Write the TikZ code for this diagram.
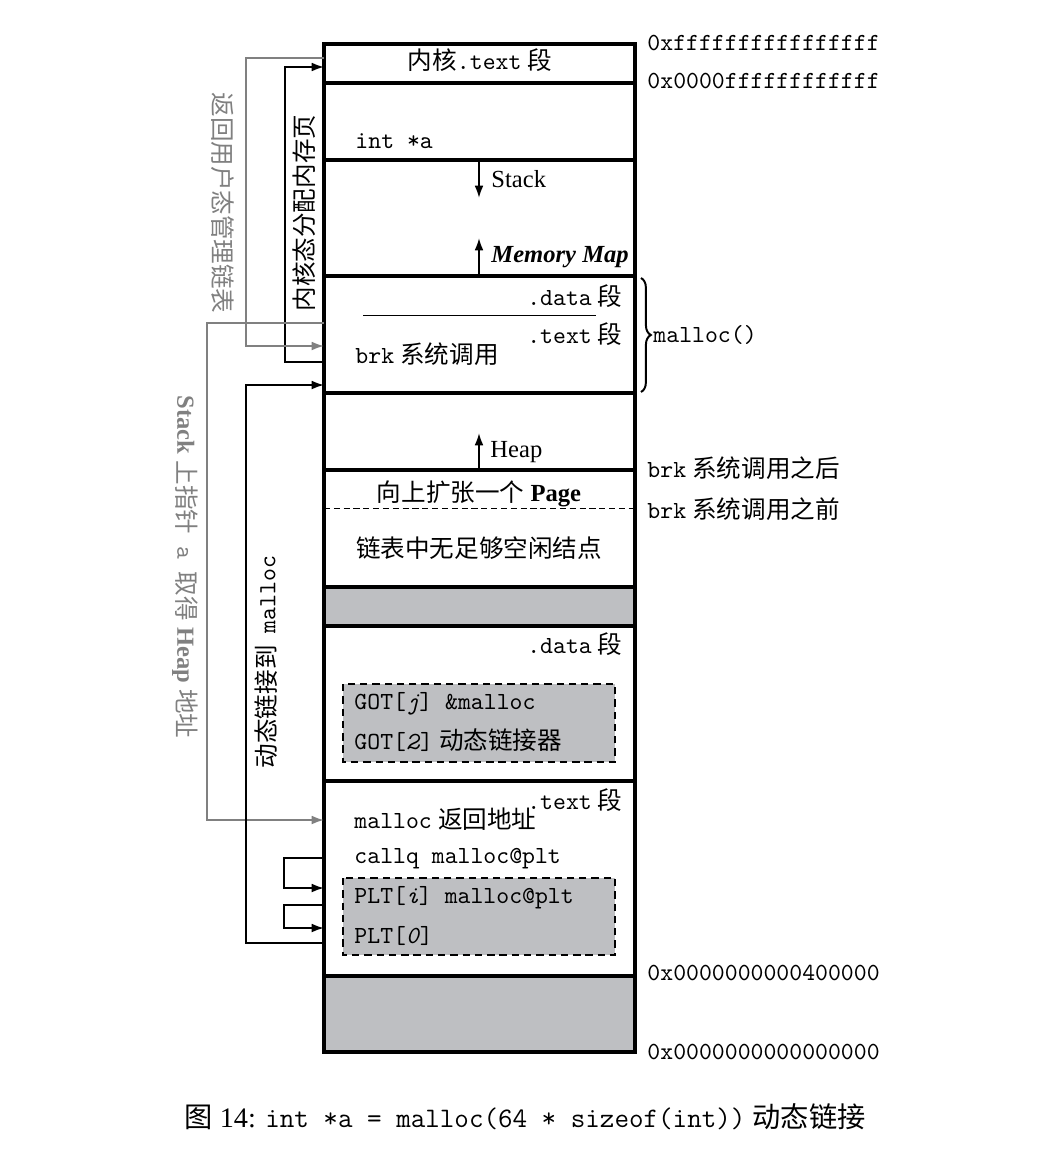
\documentclass[tikz,border=0pt]{standalone}
\usepackage{fontspec}
\setmainfont{Liberation Serif}
\newfontfamily\cjk{Noto Sans CJK SC}
\newcommand\zh[1]{{\cjk #1}}
\usetikzlibrary{decorations.pathreplacing, arrows.meta}
\definecolor{bandgray}{RGB}{190,191,194}
\definecolor{arrgray}{RGB}{128,128,128}
\tikzset{
  seg/.style={draw, line width=1.3pt},
  link/.style={->, line width=0.8pt},
  uplink/.style={link, arrgray},
  lnote/.style={inner sep=0pt, anchor=base west},
  rnote/.style={inner sep=0pt, anchor=base east},
  cnote/.style={inner sep=0pt, anchor=base},
  pltbox/.style={fill=bandgray, draw, dash pattern=on 3pt off 2pt, line width=0.5pt},
}

\begin{document}
\begin{tikzpicture}[x=0.407pt, y=-0.407pt, >={Latex[length=5pt, width=3.6pt]}]
  \useasboundingbox (0,0) rectangle (1046,1172);
  % gray parts of the column
  \fill[bandgray] (324,587) rectangle (635,626);
  \fill[bandgray] (324,976) rectangle (635,1052);
  \draw[pltbox] (343,684) rectangle (615,762);
  \draw[pltbox] (343,878) rectangle (615,955);
  % the column
  \draw[seg] (324,44) rectangle (635,1052);
  \foreach \y in {83,160,276,393,470,587,626,781,976}
    \draw[seg] (324,\y) -- (635,\y);
  \draw[line width=0.4pt] (363,315) -- (596,315);
  \draw[dash pattern=on 2.5pt off 1.5pt, line width=0.4pt] (324,508) -- (635,508);

  % texts in the column
  \node[cnote] (ktext) at (480,69) {\zh{内核}\texttt{.text}~\zh{段}};
  \node[lnote] (inta) at (355,148) {\texttt{int *a}};
  \node[lnote] (stack) at (491,187) {Stack};
  \node[lnote] (mmap) at (491,262) {\textbf{\textit{Memory Map}}};
  \node[rnote] (data1) at (623,305) {\texttt{.data}~\zh{段}};
  \node[rnote] (text1) at (623,343) {\texttt{.text}~\zh{段}};
  \node[lnote] (brk) at (355,363) {\texttt{brk}~\zh{系统调用}};
  \node[lnote] (heap) at (490,457) {Heap};
  \node[cnote] (page) at (479,501) {\zh{向上扩张一个}~\textbf{Page}};
  \node[cnote] (nofree) at (479,557) {\zh{链表中无足够空闲结点}};
  \node[rnote] (data2) at (623,653) {\texttt{.data}~\zh{段}};
  \node[lnote] (gotj) at (354,709) {\texttt{GOT[\textit{j}]~\&malloc}};
  \node[lnote] (got2) at (354,749) {\texttt{GOT[\textit{2}]}~\zh{动态链接器}};
  \node[rnote] (text2) at (623,809) {\texttt{.text}~\zh{段}};
  \node[lnote] (ret) at (354,828) {\texttt{malloc}~\zh{返回地址}};
  \node[lnote] (callq) at (354,863) {\texttt{callq malloc@plt}};
  \node[lnote] (plti) at (354,903) {\texttt{PLT[\textit{i}]~malloc@plt}};
  \node[lnote] (plt0) at (354,943) {\texttt{PLT[\textit{0}]}};

  % growth arrows
  \coordinate (stk) at (479,162);
  \coordinate (mm) at (479,276);
  \coordinate (hp) at (479,470);
  \draw[link] (stk) -- ++(0,36);
  \draw[link] (mm) -- ++(0,-38);
  \draw[link] (hp) -- ++(0,-37);

  % addresses on the right
  \node[lnote] (atop) at (647,50) {\texttt{0xffffffffffffffff}};
  \node[lnote] (auser) at (647,88) {\texttt{0x0000ffffffffffff}};
  \node[lnote] (after) at (647,477) {\texttt{brk}~\zh{系统调用之后}};
  \node[lnote] (before) at (647,518) {\texttt{brk}~\zh{系统调用之前}};
  \node[lnote] (aprog) at (647,980) {\texttt{0x0000000000400000}};
  \node[lnote] (azero) at (647,1059) {\texttt{0x0000000000000000}};
  \draw[decorate, decoration={brace, amplitude=4pt}, line width=0.8pt]
    (641,278) -- (641,392);
  \node[lnote] (mall) at (653,342) {\texttt{malloc()}};

  % connectors on the left
  \coordinate (kin) at (324,67);
  \coordinate (kout) at (324,58);
  \coordinate (brkk) at (324,362);
  \coordinate (brku) at (324,346);
  \coordinate (brks) at (324,323);
  \coordinate (brkin) at (324,385);
  \coordinate (retin) at (324,820);
  \coordinate (callout) at (324,858);
  \coordinate (pltiin) at (324,888);
  \coordinate (pltiout) at (324,905);
  \coordinate (plt0in) at (324,928);
  \coordinate (plt0out) at (324,943);
  \draw[link] (brkk) -- ++(-39,0) |- (kin);
  \draw[uplink] (kout) -- ++(-78,0) |- (brku);
  \draw[uplink] (brks) -- ++(-117,0) |- (retin);
  \draw[link] (plt0out) -- ++(-78,0) |- (brkin);
  \draw[link] (callout) -- ++(-40,0) |- (pltiin);
  \draw[link] (pltiout) -- ++(-40,0) |- (plt0in);

  \node[rotate=90] (alloc) at (304,213) {\zh{内核态分配内存页}};
  \node[rotate=-90, text=arrgray] (back) at (223,203) {\zh{返回用户态管理链表}};
  \node[rotate=-90, text=arrgray] (ptr) at (185,567)
    {\textbf{Stack}~\zh{上指针}\ \ \texttt{a}\ \ \zh{取得}~\textbf{Heap}~\zh{地址}};
  \node[rotate=90] (dyn) at (266,662) {\zh{动态链接到}\ \ \texttt{malloc}};

  \node[cnote] (cap) at (525,1127) {\fontsize{11.5}{14}\selectfont
    \zh{图}~14: \texttt{int *a = malloc(64 * sizeof(int))}~\zh{动态链接}};
\end{tikzpicture}
\end{document}
